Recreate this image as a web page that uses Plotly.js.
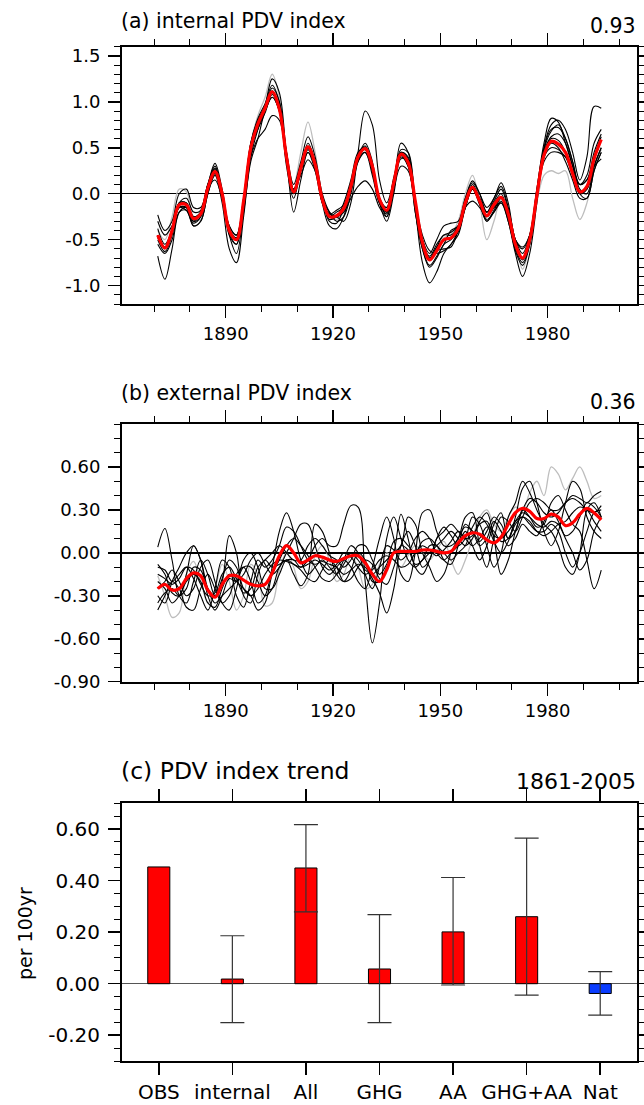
<!DOCTYPE html>
<html><head><meta charset="utf-8">
<script src="https://cdn.plot.ly/plotly-3.0.1.min.js"></script>
<style>html,body{margin:0;padding:0;background:#fff}#chart{width:644px;height:1105px}</style>
</head><body><div id="chart"></div>
<script>
// ---------------- DATA ----------------
const years = [1871,1873,1875,1877,1879,1881,1883,1885,1887,1889,
  1891,1893,1895,1897,1899,1901,1903,1905,1907,1909,
  1911,1913,1915,1917,1919,1921,1923,1925,1927,1929,
  1931,1933,1935,1937,1939,1941,1943,1945,1947,1949,
  1951,1953,1955,1957,1959,1961,1963,1965,1967,1969,
  1971,1973,1975,1977,1979,1981,1983,1985,1987,1989,
  1991,1993,1995];

// (a) internal PDV index
const intMean = [-0.45,-0.59,-0.40,-0.12,-0.12,-0.27,-0.22,0.06,0.24,0.00,
  -0.40,-0.50,-0.08,0.50,0.76,0.93,1.11,0.92,0.40,0.02,
  0.28,0.51,0.32,-0.06,-0.25,-0.24,-0.16,0.08,0.40,0.49,
  0.30,-0.06,-0.18,0.12,0.43,0.34,-0.08,-0.53,-0.72,-0.62,
  -0.50,-0.48,-0.38,-0.10,0.07,-0.08,-0.24,-0.12,-0.04,-0.22,
  -0.55,-0.70,-0.50,-0.02,0.42,0.57,0.54,0.45,0.22,0.02,
  0.08,0.38,0.59];
const intObs = [-0.40,-0.50,-0.25,0.05,0.02,-0.25,-0.28,0.05,0.25,0.02,
  -0.38,-0.45,-0.05,0.55,0.85,1.05,1.30,1.05,0.45,0.10,
  0.45,0.78,0.45,-0.02,-0.25,-0.28,-0.20,0.05,0.38,0.52,
  0.25,-0.10,-0.22,0.10,0.40,0.33,-0.10,-0.55,-0.68,-0.60,
  -0.48,-0.44,-0.30,0.00,0.20,-0.10,-0.50,-0.30,-0.05,-0.20,
  -0.52,-0.82,-0.55,-0.10,0.20,0.25,0.22,0.25,-0.05,-0.28,
  -0.10,0.30,0.48];
const intM1 = [-0.68,-0.93,-0.60,-0.20,-0.15,-0.35,-0.30,0.00,0.20,-0.10,
  -0.60,-0.75,-0.25,0.40,0.70,0.95,1.25,1.10,0.40,-0.20,
  0.15,0.45,0.30,-0.10,-0.22,-0.25,-0.30,-0.10,0.45,0.90,
  0.75,0.15,-0.10,0.15,0.48,0.45,-0.15,-0.75,-0.97,-0.85,
  -0.65,-0.55,-0.45,-0.15,0.05,-0.10,-0.30,-0.20,-0.08,-0.30,
  -0.65,-0.90,-0.65,-0.10,0.50,0.75,0.80,0.70,0.45,0.15,
  0.40,0.95,0.93];
const intM2 = [-0.30,-0.45,-0.35,-0.15,-0.15,-0.30,-0.25,0.05,0.15,-0.05,
  -0.35,-0.45,-0.10,0.40,0.60,0.70,0.85,0.80,0.35,0.05,
  0.20,0.37,0.25,-0.05,-0.20,-0.25,-0.20,-0.05,0.08,0.14,
  0.05,-0.15,-0.25,0.05,0.30,0.25,-0.10,-0.45,-0.62,-0.65,
  -0.62,-0.55,-0.40,-0.15,-0.08,-0.15,-0.25,-0.15,-0.10,-0.25,
  -0.50,-0.58,-0.45,-0.05,0.35,0.45,0.45,0.40,0.25,0.10,
  0.15,0.30,0.38];
const intM3 = [-0.23,-0.40,-0.30,0.00,0.05,-0.15,-0.15,0.10,0.33,0.05,
  -0.35,-0.45,-0.05,0.55,0.80,0.95,1.10,0.95,0.45,0.10,
  0.35,0.62,0.40,0.00,-0.20,-0.30,-0.25,0.00,0.35,0.50,
  0.30,-0.05,-0.20,0.10,0.55,0.45,-0.05,-0.50,-0.65,-0.50,
  -0.35,-0.32,-0.30,-0.05,0.12,0.00,-0.15,-0.05,0.12,-0.10,
  -0.50,-0.60,-0.45,0.05,0.55,0.82,0.78,0.55,0.30,0.10,
  0.20,0.55,0.70];
const intM4 = [-0.50,-0.63,-0.45,-0.10,-0.05,-0.20,-0.18,0.10,0.30,0.00,
  -0.45,-0.55,-0.15,0.45,0.75,0.95,1.15,1.00,0.40,0.00,
  0.25,0.50,0.35,-0.10,-0.35,-0.38,-0.25,0.10,0.42,0.52,
  0.30,-0.05,-0.25,0.05,0.45,0.38,-0.20,-0.60,-0.80,-0.70,
  -0.55,-0.50,-0.40,-0.15,0.10,-0.05,-0.20,-0.10,0.00,-0.25,
  -0.62,-0.78,-0.55,0.00,0.48,0.68,0.75,0.60,0.35,0.10,
  0.15,0.45,0.65];
const intM5 = [-0.55,-0.65,-0.50,-0.20,-0.18,-0.35,-0.30,0.00,0.22,-0.02,
  -0.45,-0.65,-0.20,0.35,0.60,0.90,1.05,0.90,0.30,-0.05,
  0.25,0.45,0.25,-0.10,-0.25,-0.20,-0.15,0.10,0.38,0.45,
  0.20,-0.10,-0.20,0.15,0.40,0.30,-0.20,-0.60,-0.78,-0.68,
  -0.55,-0.40,-0.35,-0.10,0.05,-0.10,-0.28,-0.20,-0.10,-0.30,
  -0.60,-0.75,-0.55,-0.05,0.40,0.55,0.50,0.35,0.15,-0.05,
  -0.05,0.25,0.45];
const intM6 = [-0.38,-0.55,-0.40,-0.15,-0.18,-0.32,-0.25,0.08,0.27,0.02,
  -0.38,-0.48,-0.05,0.55,0.82,0.98,1.18,1.00,0.45,0.05,
  0.28,0.55,0.35,-0.05,-0.30,-0.32,-0.15,0.10,0.40,0.55,
  0.35,-0.10,-0.22,0.12,0.45,0.40,-0.15,-0.55,-0.72,-0.58,
  -0.45,-0.45,-0.35,-0.05,0.14,0.00,-0.20,-0.05,0.08,-0.15,
  -0.50,-0.65,-0.45,0.05,0.50,0.70,0.72,0.60,0.35,0.05,
  0.00,0.30,0.50];
const intM7 = [-0.45,-0.60,-0.40,-0.10,-0.10,-0.25,-0.20,0.08,0.28,0.02,
  -0.42,-0.55,-0.10,0.50,0.70,0.88,1.08,0.90,0.35,0.00,
  0.30,0.52,0.35,-0.05,-0.25,-0.25,-0.10,0.15,0.45,0.50,
  0.25,-0.10,-0.30,0.00,0.38,0.35,-0.10,-0.55,-0.70,-0.62,
  -0.60,-0.58,-0.40,-0.15,0.05,-0.05,-0.20,-0.08,0.05,-0.18,
  -0.55,-0.70,-0.50,0.00,0.45,0.62,0.65,0.55,0.30,0.00,
  -0.05,0.25,0.45];
const intM8 = [-0.48,-0.58,-0.42,-0.15,-0.15,-0.30,-0.20,0.10,0.25,0.00,
  -0.40,-0.48,-0.08,0.48,0.72,0.90,1.05,0.90,0.40,0.05,
  0.28,0.48,0.30,-0.05,-0.28,-0.25,-0.18,0.05,0.35,0.45,
  0.25,-0.10,-0.15,0.18,0.42,0.30,-0.15,-0.55,-0.68,-0.55,
  -0.45,-0.42,-0.35,-0.12,0.05,-0.12,-0.30,-0.18,-0.05,-0.25,
  -0.55,-0.72,-0.52,0.00,0.40,0.50,0.48,0.40,0.20,0.00,
  0.05,0.30,0.50];
const intM9 = [-0.45,-0.58,-0.38,-0.10,-0.10,-0.25,-0.22,0.05,0.22,-0.02,
  -0.40,-0.50,-0.10,0.50,0.78,0.95,1.12,0.92,0.40,0.00,
  0.25,0.50,0.30,-0.08,-0.22,-0.18,-0.12,0.10,0.40,0.48,
  0.25,-0.05,-0.15,0.15,0.42,0.35,-0.12,-0.50,-0.70,-0.58,
  -0.50,-0.48,-0.42,-0.12,0.07,-0.08,-0.25,-0.15,-0.05,-0.22,
  -0.55,-0.70,-0.48,-0.02,0.45,0.60,0.58,0.45,0.22,0.02,
  0.05,0.40,0.62];

// (b) external PDV index
const extMean = [-0.25,-0.22,-0.26,-0.25,-0.18,-0.14,-0.16,-0.26,-0.31,-0.22,
  -0.16,-0.16,-0.19,-0.22,-0.23,-0.22,-0.14,-0.02,0.05,0.00,
  -0.07,-0.05,-0.02,-0.03,-0.05,-0.06,-0.04,-0.02,-0.02,-0.07,
  -0.15,-0.20,-0.12,0.00,0.01,0.01,0.01,0.02,0.02,0.01,
  0.00,0.01,0.07,0.12,0.14,0.13,0.09,0.07,0.11,0.20,
  0.28,0.31,0.29,0.24,0.24,0.27,0.25,0.19,0.21,0.27,
  0.31,0.28,0.23];
const extObs = [-0.16,-0.30,-0.45,-0.42,-0.15,-0.06,-0.20,-0.35,-0.25,-0.08,
  -0.20,-0.40,-0.30,-0.08,-0.15,-0.37,-0.35,-0.12,0.00,-0.10,
  -0.25,-0.20,-0.02,0.05,-0.05,-0.20,-0.15,-0.02,-0.10,-0.25,
  -0.22,-0.08,0.00,-0.05,-0.10,-0.02,0.05,0.00,-0.05,0.02,
  0.08,-0.05,-0.15,-0.05,0.10,0.25,0.30,0.20,0.15,0.25,
  0.32,0.30,0.42,0.50,0.40,0.60,0.55,0.44,0.52,0.60,
  0.50,0.38,0.40];
const extM1 = [0.04,0.17,-0.05,-0.30,-0.35,-0.20,-0.05,-0.15,-0.30,-0.20,
  0.12,0.00,-0.30,-0.35,-0.15,-0.05,-0.10,-0.08,-0.05,-0.05,
  -0.10,-0.05,0.05,0.10,0.05,0.05,0.20,0.33,0.32,-0.20,
  -0.63,-0.35,0.10,0.25,0.10,-0.05,-0.10,-0.05,0.00,0.05,
  0.10,0.15,0.10,0.05,0.10,0.20,0.22,0.12,0.10,0.15,
  0.22,0.25,0.20,0.15,0.15,0.20,0.15,0.00,-0.10,0.00,
  0.15,0.28,0.30];
const extM2 = [-0.40,-0.30,-0.20,-0.25,-0.38,-0.40,-0.25,-0.15,-0.25,-0.35,
  -0.30,-0.15,-0.10,-0.20,-0.35,-0.30,-0.10,0.15,0.28,0.15,
  -0.05,-0.15,-0.10,-0.05,-0.10,-0.15,-0.08,0.00,-0.05,-0.12,
  -0.15,-0.10,-0.05,0.00,0.05,0.25,0.20,0.00,-0.10,-0.20,
  -0.15,0.00,0.10,0.18,0.15,0.08,0.15,0.25,0.20,0.10,
  0.25,0.45,0.50,0.35,0.15,0.05,0.15,0.35,0.50,0.45,
  0.25,0.15,0.10];
const extM3 = [-0.08,-0.15,-0.28,-0.30,-0.15,0.05,-0.05,-0.30,-0.40,-0.30,
  -0.18,-0.20,-0.15,-0.05,0.00,-0.08,-0.15,-0.10,0.00,0.10,
  0.20,0.20,0.05,-0.10,-0.15,-0.10,-0.05,-0.10,-0.20,-0.25,
  -0.10,0.10,0.25,0.10,-0.15,-0.20,0.00,0.28,0.30,0.15,
  0.05,0.05,0.10,0.25,0.28,0.05,-0.10,0.10,0.25,0.22,
  0.15,0.25,0.35,0.38,0.35,0.30,0.30,0.35,0.40,0.38,
  0.35,0.40,0.43];
const extM4 = [-0.10,-0.12,-0.20,-0.15,-0.10,-0.18,-0.30,-0.40,-0.25,-0.05,
  -0.10,-0.30,-0.38,-0.20,-0.05,-0.10,-0.05,0.05,0.18,0.15,
  0.05,-0.05,-0.08,-0.06,-0.08,-0.10,-0.15,-0.12,-0.08,-0.10,
  -0.18,-0.28,-0.42,-0.25,0.05,0.15,0.05,-0.10,-0.05,0.10,
  0.15,0.20,0.15,0.10,0.12,0.22,0.28,0.10,-0.15,-0.05,
  0.15,0.30,0.38,0.35,0.28,0.25,0.28,0.35,0.38,0.35,
  0.30,0.28,0.33];
const extM5 = [-0.30,-0.35,-0.20,-0.10,0.00,0.05,-0.05,-0.25,-0.35,-0.30,
  -0.25,-0.20,-0.10,-0.10,-0.20,-0.30,-0.25,-0.10,-0.05,-0.15,
  -0.23,-0.15,0.20,0.15,0.00,-0.15,-0.20,-0.12,0.00,-0.05,
  -0.20,-0.20,-0.10,0.00,0.27,0.10,-0.10,-0.15,-0.05,0.10,
  0.18,0.12,0.05,0.10,0.25,0.20,0.05,-0.10,0.00,0.25,
  0.35,0.50,0.42,0.30,0.20,0.15,0.05,-0.10,-0.15,0.00,
  0.30,0.35,0.25];
const extM6 = [-0.20,-0.25,-0.35,-0.30,-0.20,-0.15,-0.20,-0.35,-0.38,-0.25,
  -0.15,-0.20,-0.25,-0.30,-0.40,-0.35,-0.15,-0.05,0.05,0.10,
  0.05,-0.02,-0.10,-0.18,-0.20,-0.15,-0.05,0.05,0.00,-0.15,
  -0.25,-0.10,0.05,0.02,-0.05,0.00,0.10,0.15,0.10,0.00,
  -0.05,0.00,0.05,0.15,0.05,-0.05,0.05,0.20,0.28,0.10,
  0.15,0.30,0.25,0.18,0.20,0.35,0.40,0.30,0.20,0.15,
  -0.05,-0.25,-0.12];
const extM7 = [-0.25,-0.20,-0.12,-0.20,-0.30,-0.25,-0.10,-0.05,-0.20,-0.35,
  -0.40,-0.25,-0.05,0.00,-0.10,-0.25,-0.25,-0.15,-0.05,-0.08,
  -0.12,-0.18,-0.20,-0.12,-0.05,-0.10,-0.20,-0.18,-0.10,-0.05,
  -0.08,-0.18,-0.22,-0.10,0.05,0.02,-0.08,-0.05,0.05,0.05,
  -0.05,-0.08,0.05,0.20,0.15,0.05,0.10,0.22,0.15,0.05,
  0.10,0.20,0.15,0.12,0.22,0.30,0.22,0.10,0.00,-0.12,
  -0.05,0.15,0.25];
const extM8 = [-0.35,-0.28,-0.25,-0.30,-0.25,-0.10,-0.12,-0.25,-0.30,-0.18,
  -0.05,-0.10,-0.25,-0.30,-0.25,-0.15,-0.08,-0.05,-0.06,-0.08,
  -0.10,-0.08,-0.05,-0.08,-0.12,-0.08,0.00,-0.03,-0.10,-0.15,
  -0.12,-0.05,-0.02,-0.05,-0.10,-0.08,0.00,0.05,0.02,-0.02,
  0.02,0.08,0.15,0.10,0.05,0.10,0.18,0.15,0.08,0.10,
  0.22,0.28,0.25,0.20,0.18,0.22,0.20,0.12,0.15,0.25,
  0.35,0.32,0.25];
const extM9 = [-0.15,-0.18,-0.22,-0.18,-0.10,-0.12,-0.22,-0.30,-0.28,-0.15,
  -0.10,-0.18,-0.28,-0.25,-0.10,-0.05,0.00,0.05,0.00,-0.05,
  -0.05,0.05,0.10,0.05,-0.02,-0.05,-0.10,-0.05,0.05,0.05,
  -0.05,-0.15,-0.08,0.08,0.10,0.05,0.00,0.08,0.10,0.05,
  0.00,-0.05,0.00,0.05,0.18,0.25,0.20,0.08,0.00,0.08,
  0.20,0.25,0.22,0.15,0.12,0.15,0.20,0.22,0.28,0.32,
  0.30,0.22,0.15];

// (c) PDV index trend 1861-2005 (per 100yr)
const trendCats = ["OBS","internal","All","GHG","AA","GHG+AA","Nat"];
const trendVals = [0.453, 0.018, 0.449, 0.057, 0.201, 0.260, -0.038];
const trendHigh = [null, 0.186, 0.617, 0.268, 0.412, 0.565, 0.047];
const trendLow  = [null, -0.151, 0.279, -0.151, -0.005, -0.044, -0.122];

// tick labels
const xTicksYears = [1890, 1920, 1950, 1980];
const yTicksA = [-1.0, -0.5, 0.0, 0.5, 1.0, 1.5];
const yTicksB = [-0.9, -0.6, -0.3, 0.0, 0.3, 0.6];
const yTicksC = [-0.2, 0.0, 0.2, 0.4, 0.6];

// ---------------- STYLE / LAYOUT ----------------
const W = 644, H = 1105;
const FONT = '"DejaVu Sans", sans-serif';
const px = v => v / W;
const py = v => 1 - v / H;

const intMembers = [intM1,intM2,intM3,intM4,intM5,intM6,intM7,intM8,intM9];
const extMembers = [extM1,extM2,extM3,extM4,extM5,extM6,extM7,extM8,extM9];

const traces = [];
function addPanel(obs, members, mean, xa, ya) {
  traces.push({type:'scatter', mode:'lines', x:years, y:obs, xaxis:xa, yaxis:ya,
    line:{color:'#bdbdbd', width:1.3, shape:'spline', smoothing:1}, hoverinfo:'skip'});
  members.forEach(m => traces.push({type:'scatter', mode:'lines', x:years, y:m, xaxis:xa, yaxis:ya,
    line:{color:'#000', width:1.1, shape:'spline', smoothing:1}, hoverinfo:'skip'}));
  traces.push({type:'scatter', mode:'lines', x:years, y:mean, xaxis:xa, yaxis:ya,
    line:{color:'#ff0000', width:3.2, shape:'spline', smoothing:1}, hoverinfo:'skip'});
}
addPanel(intObs, intMembers, intMean, 'x', 'y');
addPanel(extObs, extMembers, extMean, 'x2', 'y2');

traces.push({type:'bar', x:trendCats, y:trendVals, xaxis:'x3', yaxis:'y3', width:0.3,
  marker:{color: trendCats.map(c => c === 'Nat' ? '#0a3cff' : '#ff0000'), line:{color:'#000', width:1}}});
const ei = trendCats.map((c,i)=>i).filter(i => trendHigh[i] !== null);
traces.push({type:'scatter', mode:'markers', xaxis:'x3', yaxis:'y3',
  x: ei.map(i => trendCats[i]), y: ei.map(i => trendVals[i]),
  marker:{size:1, color:'rgba(0,0,0,0)'},
  error_y:{type:'data', symmetric:false,
    array: ei.map(i => trendHigh[i] - trendVals[i]),
    arrayminus: ei.map(i => trendVals[i] - trendLow[i]),
    color:'#333', thickness:1.2, width:12}});

const XD = [px(122), px(637)];
function baseAxis(extra) {
  return Object.assign({showline:true, linecolor:'#000', linewidth:2, mirror:'allticks',
    ticks:'outside', ticklen:12, tickwidth:1.5, tickcolor:'#000', showgrid:false, zeroline:false,
    tickfont:{family:FONT, size:18, color:'#000'}, fixedrange:true}, extra);
}
function yearAxis(domainY, anchor) {
  return baseAxis({domain:XD, anchor:anchor, range:[1861, 2005], tickmode:'array',
    tickvals:xTicksYears, ticktext:xTicksYears.map(String),
    minor:{ticks:'outside', ticklen:6, tickwidth:1, tickcolor:'#000', tick0:1870, dtick:10, showgrid:false}});
}
function valAxis(domain, anchor, range, tv, dec, minorStep, size, zc) {
  return baseAxis({domain:domain, anchor:anchor, range:range, tickmode:'array',
    tickvals:tv, ticktext:tv.map(v => v.toFixed(dec)), ticklabelstandoff:4,
    zeroline:true, zerolinecolor:zc, zerolinewidth:1.5,
    tickfont:{family:FONT, size:size, color:'#000'},
    minor:{ticks:'outside', ticklen:6, tickwidth:1, tickcolor:'#000', tick0:0, dtick:minorStep, showgrid:false}});
}

const layout = {
  width:W, height:H, margin:{l:0, r:0, t:0, b:0},
  paper_bgcolor:'#fff', plot_bgcolor:'#fff', showlegend:false,
  xaxis: yearAxis(null, 'y'),
  yaxis: valAxis([py(304), py(46.7)], 'x', [-1.2, 1.6], yTicksA, 1, 0.1, 18, '#000'),
  xaxis2: yearAxis(null, 'y2'),
  yaxis2: valAxis([py(681.7), py(424)], 'x2', [-0.9, 0.9], yTicksB, 2, 0.1, 18, '#000'),
  xaxis3: baseAxis({domain:XD, anchor:'y3', type:'category', range:[-0.5, 6.5],
    tickfont:{family:FONT, size:20, color:'#000'}}),
  yaxis3: valAxis([py(1061), py(803.3)], 'x3', [-0.3, 0.7], yTicksC, 2, 0.05, 20, '#555'),
  annotations: [
    {text:'(a) internal PDV index', x:px(119), y:py(21), xanchor:'left', yanchor:'middle'},
    {text:'0.93', x:px(638), y:py(26), xanchor:'right', yanchor:'middle'},
    {text:'(b) external PDV index', x:px(119), y:py(393), xanchor:'left', yanchor:'middle'},
    {text:'0.36', x:px(638), y:py(402), xanchor:'right', yanchor:'middle'},
    {text:'(c) PDV index trend', x:px(119), y:py(771), xanchor:'left', yanchor:'middle', size:23.5},
    {text:'1861-2005', x:px(638), y:py(781), xanchor:'right', yanchor:'middle', size:22},
    {text:'per 100yr', x:px(25), y:py(933), xanchor:'center', yanchor:'middle', textangle:-90, size:19}
  ].map(a => ({text:a.text, x:a.x, y:a.y, xref:'paper', yref:'paper', xanchor:a.xanchor, yanchor:a.yanchor,
    textangle:a.textangle || 0, showarrow:false, font:{family:FONT, size:a.size || 20.5, color:'#000'}}))
};

Plotly.newPlot('chart', traces, layout, {displayModeBar:false, staticPlot:true});
</script>
</body></html>
